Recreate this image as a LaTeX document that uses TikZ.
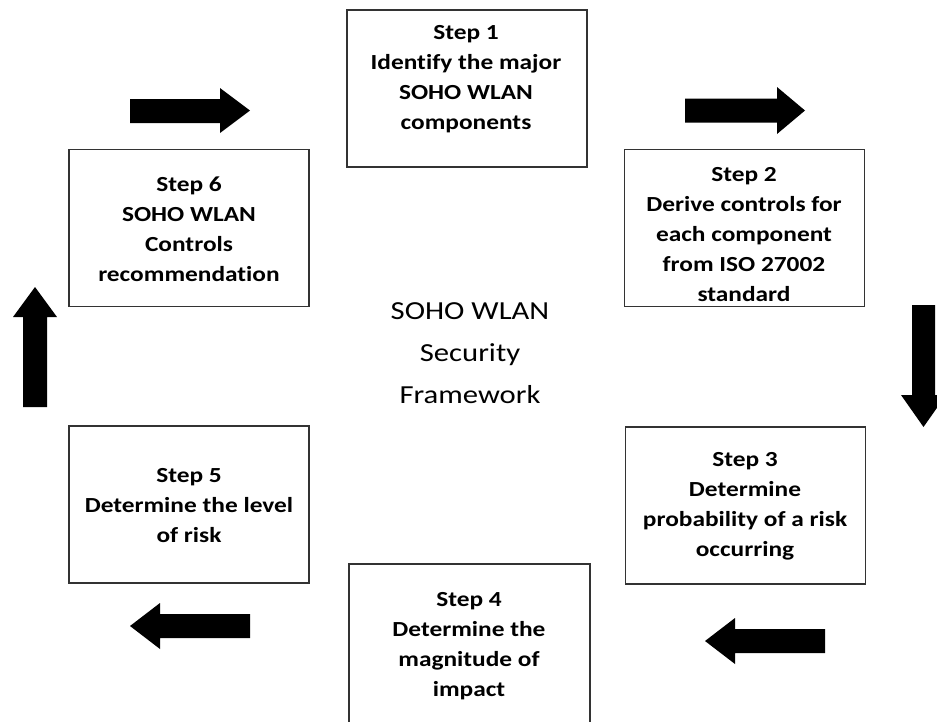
\documentclass[tikz,border=0pt]{standalone}
\usepackage{fontspec}
\setmainfont{Carlito}[FakeStretch=1.18, Ligatures=NoCommon]
\begin{document}
\begin{tikzpicture}[x=1pt,y=-1pt,
  stepbox/.style={draw=black!80, line width=1.2pt, inner sep=0pt, minimum width=240pt, minimum height=157pt},
  steptext/.style={align=center, inner sep=0pt, font=\fontsize{21.5}{30}\selectfont\bfseries},
  centretext/.style={align=center, inner sep=0pt, font=\fontsize{26}{42}\selectfont},
  blockarrow/.style={fill=black}]
\clip (0,0) rectangle (937,721);
\fill[white] (0,0) rectangle (937,721);

% the six step boxes
\node[stepbox] (b1) at (467,88.5) {};
\node[stepbox] (b2) at (744.5,228) {};
\node[stepbox] (b3) at (745.5,505.5) {};
\node[stepbox, minimum width=241pt, minimum height=200pt] (b4) at (469.5,664) {};
\node[stepbox] (b5) at (189,504.5) {};
\node[stepbox] (b6) at (189,228) {};

% their captions
\node[steptext] (t1) at (466,79) {Step 1\\Identify the major\\SOHO WLAN\\components};
\node[steptext] (t2) at (744,235) {Step 2\\Derive controls for\\each component\\from ISO 27002\\standard};
\node[steptext] (t3) at (745,506) {Step 3\\Determine\\probability of a risk\\occurring};
\node[steptext] (t4) at (469,646) {Step 4\\Determine the\\magnitude of\\impact};
\node[steptext] (t5) at (189,506) {Step 5\\Determine the level\\of risk};
\node[steptext] (t6) at (189,229) {Step 6\\SOHO WLAN\\Controls\\recommendation};

% title in the middle
\node[centretext] (title) at (470,353) {SOHO WLAN\\Security\\Framework};

% block arrows showing the cycle
\fill[blockarrow] (130,99) -- (220,99) -- (220,88) -- (250,110.5) -- (220,133) -- (220,123) -- (130,123) -- cycle;
\fill[blockarrow] (685,98.5) -- (777,98.5) -- (777,87) -- (805,110.5) -- (777,134) -- (777,122.5) -- (685,122.5) -- cycle;
\fill[blockarrow] (912,305) -- (935,305) -- (935,395) -- (946,395) -- (923.5,427) -- (901,395) -- (912,395) -- cycle;
\fill[blockarrow] (825,629) -- (735,629) -- (735,618) -- (705,641) -- (735,664) -- (735,653) -- (825,653) -- cycle;
\fill[blockarrow] (250,614) -- (160,614) -- (160,603) -- (130,626) -- (160,649) -- (160,638) -- (250,638) -- cycle;
\fill[blockarrow] (23,407) -- (23,317) -- (13,317) -- (35,287) -- (57,317) -- (47,317) -- (47,407) -- cycle;
\end{tikzpicture}
\end{document}
